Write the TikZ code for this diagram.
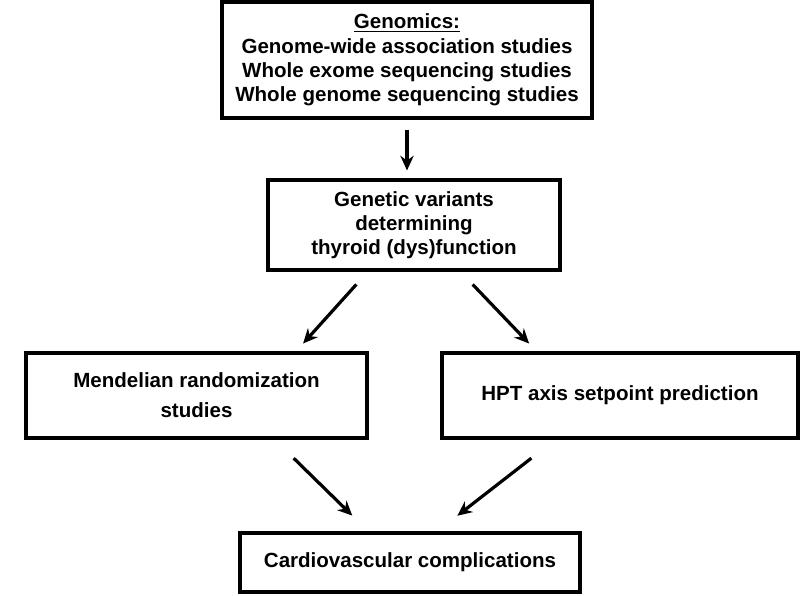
\documentclass[tikz,border=0pt]{standalone}
\usepackage{fontspec}
\setmainfont{Liberation Sans}
\usetikzlibrary{arrows.meta,calc}
\tikzstyle{box} = [rectangle, draw=black, line width=2.3pt, align=center, inner sep=0pt, font=\fontsize{15.4}{18.2}\selectfont\bfseries]
\tikzstyle{arrow} = [line width=2.4pt,-{Stealth[length=11pt,width=10pt]}]

\begin{document}
\begin{tikzpicture}[x=0.75pt,y=-0.75pt]
\useasboundingbox (0,0) rectangle (800,596);

\node[box, minimum width=277.5pt, minimum height=87pt] (genomics) at (407,60)
  {\underline{Genomics:}\\Genome-wide association studies\\Whole exome sequencing studies\\Whole genome sequencing studies};
\node[box, minimum width=219pt, minimum height=67.5pt] (variants) at (414,225)
  {Genetic variants\\determining\\thyroid (dys)function};
\node[box, minimum width=255.75pt, minimum height=63.75pt, font=\fontsize{15.4}{22.5}\selectfont\bfseries] (mendel) at (196.5,395.5)
  {Mendelian randomization\\studies};
\node[box, minimum width=267pt, minimum height=63.75pt] (hpt) at (620,395.5)
  {HPT axis setpoint prediction};
\node[box, minimum width=255pt, minimum height=44.25pt] (cardio) at (410,562.5)
  {Cardiovascular complications};

% arrows
\draw[arrow, shorten <=7.5pt, shorten >=6pt] (genomics.south) -- (genomics.south |- variants.north);
\draw[arrow, shorten <=13pt, shorten >=8pt] ($(variants.south west)!.344!(variants.south east)$) -- ($(mendel.north west)!.789!(mendel.north east)$);
\draw[arrow, shorten <=13.4pt, shorten >=8.2pt] ($(variants.south west)!.657!(variants.south east)$) -- ($(hpt.north west)!.268!(hpt.north east)$);
\draw[arrow, shorten <=20pt, shorten >=17pt] ($(mendel.south west)!.727!(mendel.south east)$) -- ($(cardio.north west)!.379!(cardio.north east)$);
\draw[arrow, shorten <=22.8pt, shorten >=19.2pt] ($(hpt.south west)!.32!(hpt.south east)$) -- ($(cardio.north west)!.579!(cardio.north east)$);

\end{tikzpicture}
\end{document}
